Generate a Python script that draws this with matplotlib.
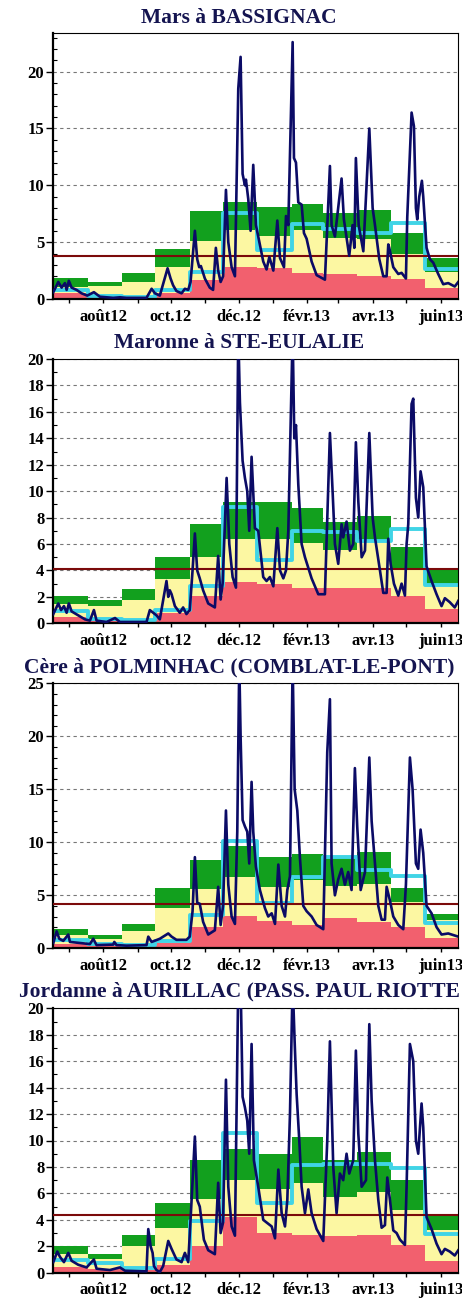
import numpy as np
import pandas as pd
import matplotlib
matplotlib.use("Agg")
import matplotlib.pyplot as plt
from matplotlib.ticker import MultipleLocator

# hydrological year July 2012 - June 2013, x in days since 2012-07-01
t0 = pd.Timestamp("2012-07-01")
month_starts = pd.date_range("2012-07-01", periods=13, freq="MS")
edges = np.array([(d - t0).days for d in month_starts], dtype=float)
tick_days = edges[:-1] + 14
tick_labels = ["", "août12", "", "oct.12", "", "déc.12", "", "févr.13", "", "avr.13", "", "juin13"]

titles = ["Mars à BASSIGNAC",
          "Maronne à STE-EULALIE",
          "Cère à POLMINHAC (COMBLAT-LE-PONT)",
          "Jordanne à AURILLAC (PASS. PAUL RIOTTE"]

# monthly bands: red (0 -> red), yellow (red -> green_lo), green (green_lo -> green_hi)
red_1 = [0.5, 0.25, 0.2, 0.5, 1.68, 2.85, 2.7, 2.3, 2.2, 2.0, 1.74, 0.95]
glo_1 = [1.09, 1.1, 1.53, 2.85, 5.06, 6.1, 5.5, 6.1, 5.35, 5.26, 4.0, 2.4]
ghi_1 = [1.82, 1.5, 2.26, 4.4, 7.7, 8.5, 8.05, 8.4, 7.6, 7.8, 5.8, 3.6]
mean_1 = [0.8, 0.25, 0.2, 0.8, 2.4, 7.6, 4.3, 6.6, 6.2, 5.8, 6.7, 2.6]
module_1 = 3.8

red_2 = [0.5, 0.25, 0.2, 0.75, 2.07, 3.1, 3.0, 2.65, 2.65, 2.65, 2.07, 1.06]
glo_2 = [1.46, 1.3, 1.8, 3.33, 5.05, 6.4, 6.4, 6.06, 5.55, 6.3, 4.1, 2.8]
ghi_2 = [2.07, 1.8, 2.6, 5.0, 7.5, 9.2, 9.2, 8.76, 7.7, 8.1, 5.8, 4.0]
mean_2 = [0.9, 0.3, 0.25, 1.0, 2.8, 8.8, 4.8, 6.95, 6.9, 6.2, 7.1, 2.9]
module_2 = 4.1

red_3 = [0.45, 0.3, 0.25, 0.5, 2.0, 3.05, 2.6, 2.2, 2.9, 2.5, 2.05, 0.95]
glo_3 = [1.3, 0.9, 1.65, 3.77, 5.57, 6.75, 5.8, 6.45, 5.9, 6.1, 4.4, 2.67]
ghi_3 = [1.8, 1.25, 2.3, 5.66, 8.3, 9.65, 8.65, 8.9, 8.7, 9.1, 5.66, 3.24]
mean_3 = [0.8, 0.45, 0.3, 0.65, 3.1, 10.1, 4.25, 6.7, 8.65, 7.4, 6.8, 2.35]
module_3 = 4.15

red_4 = [0.45, 0.3, 0.2, 0.6, 2.0, 4.25, 3.0, 2.85, 2.77, 2.85, 2.1, 0.85]
glo_4 = [1.4, 1.0, 2.0, 3.35, 5.55, 7.0, 6.3, 6.8, 5.75, 6.1, 4.75, 3.2]
ghi_4 = [2.0, 1.4, 2.85, 5.3, 8.5, 9.35, 9.0, 10.3, 8.5, 9.1, 7.0, 4.35]
mean_4 = [0.95, 0.7, 0.35, 1.05, 3.9, 10.55, 5.3, 8.15, 8.2, 8.2, 7.9, 2.9]
module_4 = 4.35

# daily flows (day, m3/s)
day_1 = [0, 4.5, 7.5, 10.5, 12, 14, 16.5, 21, 25.5, 30.6, 36.6, 42, 54, 60, 66, 84, 88.6, 91.6, 96,
         103, 105.7, 108, 111, 115.6, 118.6, 121.6, 123.7, 127.6, 129.7, 131.5, 133, 136.6, 141, 144,
         146.5, 148.6, 150.8, 153, 155.6, 157.7, 160.7, 163.7, 166.7, 168.8, 170.6, 172.7, 173.6,
         175.7, 177.8, 180.2, 182.6, 184.7, 189.2, 192.2, 194.7, 198.3, 201.9, 204.3, 207.9, 209.7,
         211.8, 215.7, 216.9, 218.7, 220.8, 223.8, 225.9, 228.3, 232.8, 237.3, 244.8, 249.3, 250.8,
         253.8, 259.8, 261.9, 266.7, 269.7, 271.3, 272.7, 275.2, 279.4, 284.8, 287.8, 289.9, 293.8,
         297.4, 300.4, 301.9, 302.8, 306.4, 310.9, 313.9, 317.8, 319, 322.9, 325, 326.8, 328, 329.8,
         332.2, 333.4, 336.4, 339.4, 342.4, 346.9, 351.4, 355.9, 361.8, 365]
flow_1 = [0.6, 1.5, 1.0, 1.4, 0.8, 1.6, 1.0, 0.8, 0.5, 0.3, 0.6, 0.2, 0.1, 0.15, 0.1, 0.1, 0.9, 0.5, 0.3,
          2.7, 1.8, 1.2, 0.7, 0.5, 0.9, 0.8, 1.5, 6.0, 3.5, 2.8, 2.9, 1.8, 1.0, 0.8,
          4.5, 2.5, 1.5, 2.0, 9.6, 5.0, 2.8, 2.0, 18.5, 21.3, 11.0, 10.0, 10.5,
          8.8, 6.0, 11.8, 6.5, 5.5, 3.3, 2.6, 3.7, 2.5, 6.9, 3.6, 2.8, 7.3,
          6.5, 22.6, 12.4, 12.0, 8.5, 8.3, 5.8, 5.3, 3.3, 2.1, 1.7, 11.7, 6.5,
          5.5, 10.6, 7.0, 3.8, 6.5, 4.5, 12.4, 6.5, 4.2, 15.0, 8.0, 6.5, 3.5,
          2.0, 2.0, 4.8, 4.5, 2.8, 2.2, 2.3, 1.8, 7.2, 16.4, 15.2, 8.0, 7.0, 9.0,
          10.4, 9.0, 4.5, 3.5, 3.2, 2.2, 1.3, 1.4, 1.1, 1.5]

day_2 = [0, 4.5, 7, 9.6, 12, 14, 16.5, 22.5, 28.5, 33, 36.6, 39, 48, 55.6, 60, 72, 84, 87, 90, 93, 96,
         102, 103.6, 105, 106.6, 109.6, 114, 117, 120, 123, 125.5, 127.6, 129.7, 132, 135, 139.6,
         145.6, 148.6, 150.8, 152.6, 156.2, 158.6, 161.6, 164.6, 166.7, 168.2, 170.6, 172.7, 174.8,
         176.6, 178.7, 181.7, 184.7, 189.2, 192.2, 195.2, 198.3, 201.9, 204.3, 207.3, 209.7, 211.8,
         215.7, 217.2, 218.7, 220.8, 223.8, 226.8, 229.8, 232.8, 238.8, 244.8, 249.3, 251.7, 253.8,
         256.8, 259.8, 261.3, 264.3, 267.3, 270.3, 272.7, 274.9, 277.9, 280.9, 284.8, 287.8, 289.9,
         294.4, 297.4, 300.4, 301.9, 304, 307, 310.9, 313.9, 316.9, 318.4, 319.9, 322.9, 324.4,
         326.8, 328.9, 331, 333.4, 336.4, 340.9, 345.4, 349.9, 352.9, 357.3, 361.8, 365]
flow_2 = [0.7, 1.5, 1.0, 1.3, 0.8, 1.5, 0.9, 0.6, 0.3, 0.2, 1.0, 0.2, 0.1, 0.4, 0.1, 0.1, 0.1, 1.0, 0.8, 0.6, 0.3,
          3.2, 2.0, 2.5, 2.2, 1.3, 0.8, 1.2, 0.7, 1.0, 4.0, 6.8, 4.0, 3.4, 2.5, 1.5,
          1.2, 5.1, 1.8, 3.0, 11.0, 6.0, 3.5, 2.7, 22.0, 16.7, 12.3, 11.0, 10.0,
          7.0, 12.6, 7.2, 7.0, 3.5, 3.2, 3.5, 2.8, 7.2, 4.0, 3.4, 4.0, 7.0,
          22.0, 14.0, 15.0, 10.5, 6.0, 5.0, 4.2, 3.4, 2.2, 2.2, 14.4, 10.0, 6.0,
          4.5, 7.5, 6.5, 7.7, 5.5, 6.0, 13.7, 9.2, 5.0, 5.5, 14.4, 8.0, 6.5,
          4.0, 2.3, 2.3, 6.4, 4.5, 3.0, 2.1, 3.0, 2.1, 6.0, 7.5, 16.6, 17.0,
          9.5, 8.0, 11.5, 10.3, 4.3, 3.2, 2.2, 1.3, 1.9, 1.6, 1.2, 1.7]

day_3 = [0, 3, 5.4, 9, 13.5, 15, 24, 33, 36, 39, 54, 55, 57, 66, 84, 85.6, 88.6, 96, 103.6, 106.6, 111,
         120, 123, 125.5, 127.6, 129.7, 132, 135, 139.6, 145.6, 148.6, 150.8, 153, 155.6, 157.7,
         160.7, 163.7, 165.8, 167.6, 168.8, 170.6, 172.7, 174.8, 176.6, 178.7, 180.2, 182.6, 186.2,
         190.7, 193.7, 196.8, 199.8, 202.8, 205.8, 208.8, 210.9, 213.3, 215.7, 217.5, 219.9, 222.3,
         225.3, 228.3, 232.8, 237.3, 243.3, 246.9, 249.3, 250.8, 253.8, 256.8, 259.8, 262.8, 265.8,
         268.8, 271.8, 273.9, 277, 280.9, 284.8, 286.9, 289.9, 292.9, 295.9, 298.9, 300.4, 303.4,
         306.4, 310.9, 315.4, 317.8, 321.4, 323.8, 326.8, 328.9, 331, 333.4, 336.4, 340.9, 345.4,
         349.9, 355.9, 365]
flow_3 = [0.5, 1.6, 0.9, 0.7, 1.3, 0.6, 0.5, 0.4, 0.9, 0.3, 0.35, 0.6, 0.3, 0.25, 0.3, 1.1, 0.6, 0.9, 1.4, 1.1, 0.8,
          0.8, 1.1, 3.5, 8.6, 4.3, 4.2, 2.5, 1.3, 1.7, 5.8, 2.2, 4.0, 13.0, 6.0,
          3.0, 2.3, 11.0, 27.0, 20.0, 12.1, 11.5, 11.0, 8.0, 15.7, 11.0, 7.7, 5.5,
          3.8, 3.0, 3.3, 2.3, 7.9, 4.0, 3.0, 5.5, 6.8, 27.0, 15.0, 13.0, 8.5,
          4.0, 3.5, 3.0, 2.2, 1.8, 18.5, 23.5, 8.0, 5.0, 6.5, 7.5, 6.0, 7.2,
          5.5, 17.0, 11.5, 5.5, 7.2, 18.0, 12.0, 8.0, 4.0, 2.7, 2.7, 5.8, 4.5,
          3.0, 2.2, 1.8, 6.0, 18.0, 15.0, 8.0, 7.5, 11.2, 9.0, 4.0, 3.3, 2.0,
          1.3, 1.4, 1.1]

day_4 = [0, 3.6, 6, 9.6, 13.5, 16.5, 22.5, 30, 36.6, 39, 51, 60, 64.6, 84, 85.6, 87.7, 89.5, 90.7, 93, 96,
         99, 103.6, 106.6, 111, 115.6, 118.6, 121.6, 123.7, 127.6, 129.7, 132, 135.7, 139.6, 145.6,
         148.6, 150.8, 153, 155.6, 157.7, 160.7, 163.7, 166.7, 168.8, 170.6, 172.7, 174.8, 176.6,
         178.7, 180.8, 184.7, 189.2, 192.2, 196.8, 199.8, 202.8, 205.8, 208.8, 210.9, 213.3, 215.7,
         217.5, 219.3, 221.7, 223.8, 226.8, 229.8, 232.8, 237.3, 243.3, 246.9, 249.3, 252.3, 255.3,
         258.3, 261.3, 264.3, 266.7, 270.3, 272.7, 274.9, 277.9, 281.8, 284.8, 286.9, 289.9, 292.9,
         295.9, 298.9, 301, 303.4, 306.4, 309.4, 312.4, 316.9, 318.4, 321.4, 324.4, 326.8, 328.9,
         331.9, 333.4, 336.4, 340.9, 345.4, 349.9, 352.9, 357.3, 361.8, 365]
flow_4 = [0.8, 1.6, 1.2, 0.8, 1.5, 0.9, 0.6, 0.4, 1.0, 0.3, 0.2, 0.4, 0.15, 0.1, 3.3, 2.0, 1.5, 0.5, 0.2, 0.05,
          0.5, 2.4, 1.8, 1.0, 0.8, 1.5, 0.8, 4.0, 10.3, 5.5, 5.0, 2.5, 1.7, 1.4,
          6.8, 3.0, 3.8, 14.6, 6.5, 3.5, 2.8, 22.0, 22.0, 13.3, 12.5, 11.5, 9.0,
          17.3, 8.5, 6.5, 4.0, 3.8, 3.5, 2.6, 7.8, 4.5, 3.5, 5.5, 12.0, 22.0,
          17.5, 13.5, 10.0, 6.5, 4.5, 6.3, 4.5, 3.3, 2.4, 10.0, 17.5, 8.0, 4.5,
          7.5, 7.0, 9.0, 7.5, 8.5, 16.8, 10.5, 6.5, 7.0, 18.8, 13.0, 8.5, 5.5,
          3.4, 3.6, 7.2, 5.5, 3.2, 3.0, 2.5, 2.1, 6.5, 17.3, 16.0, 10.0, 9.0,
          12.8, 11.0, 4.2, 3.3, 2.2, 1.4, 1.8, 1.6, 1.3, 1.7]

panels = [
    (red_1, glo_1, ghi_1, mean_1, module_1, day_1, flow_1, 23.4, 5),
    (red_2, glo_2, ghi_2, mean_2, module_2, day_2, flow_2, 20, 2),
    (red_3, glo_3, ghi_3, mean_3, module_3, day_3, flow_3, 25, 5),
    (red_4, glo_4, ghi_4, mean_4, module_4, day_4, flow_4, 20, 2),
]

# axes boxes in figure pixels (top, bottom) and title baselines
boxes = [(33, 299), (359, 623.3), (683.3, 948.3), (1008.3, 1272.7)]
title_base = [22.7, 347.7, 672.7, 996.7]

W, H = 462, 1299
fig = plt.figure(figsize=(W / 100, H / 100), dpi=100)
serif = ["Liberation Serif", "DejaVu Serif"]

c_red = "#f2606e"
c_yel = "#fcf7a2"
c_green = "#12a01e"
c_cyan = "#40d4e6"
c_navy = "#0b0b66"
c_mod = "#7b0a0a"

widths = np.diff(edges)
for i, (red, glo, ghi, mean, module, days, flows, ytop, ystep) in enumerate(panels):
    top, bot = boxes[i]
    ax = fig.add_axes([53.3 / W, 1 - bot / H, 405 / W, (bot - top) / H])
    red = np.array(red); glo = np.array(glo); ghi = np.array(ghi)

    ax.bar(edges[:-1], red, width=widths, align="edge", color=c_red, lw=0, zorder=1)
    ax.bar(edges[:-1], glo - red, bottom=red, width=widths, align="edge", color=c_yel, lw=0, zorder=1)
    ax.bar(edges[:-1], ghi - glo, bottom=glo, width=widths, align="edge", color=c_green, lw=0, zorder=1)

    ax.step(edges, list(mean) + [mean[-1]], where="post", color=c_cyan, lw=2.8, zorder=2)
    ax.axhline(module, color=c_mod, lw=1.5, zorder=3)
    ax.plot(days, flows, color=c_navy, lw=1.9, zorder=4)

    ax.set_xlim(0, 365)
    ax.set_ylim(0, ytop)
    ax.yaxis.set_major_locator(MultipleLocator(ystep))
    ax.yaxis.set_minor_locator(MultipleLocator(1))
    ax.set_xticks(tick_days)
    ax.set_xticklabels(tick_labels)
    ax.grid(axis="y", color="#777777", ls=(0, (3, 3)), lw=0.8, zorder=0)
    ax.set_axisbelow(True)

    ax.tick_params(axis="y", which="major", direction="out", length=5, width=1, pad=1.5)
    ax.tick_params(axis="y", which="minor", direction="in", length=3, width=0.8)
    ax.tick_params(axis="x", direction="out", length=3, width=1, pad=4)
    for lab in ax.get_xticklabels() + ax.get_yticklabels():
        lab.set_family(serif)
        lab.set_fontweight("bold")
        lab.set_fontsize(12)

    for side in ["left", "bottom"]:
        ax.spines[side].set_linewidth(1.6)
    for side in ["top", "right"]:
        ax.spines[side].set_linewidth(0.8)

    fig.text(239 / W, 1 - title_base[i] / H, titles[i], ha="center", va="baseline",
             family=serif, fontweight="bold", fontsize=15.5, color="#141450")

fig.savefig("out.png", dpi=100)
